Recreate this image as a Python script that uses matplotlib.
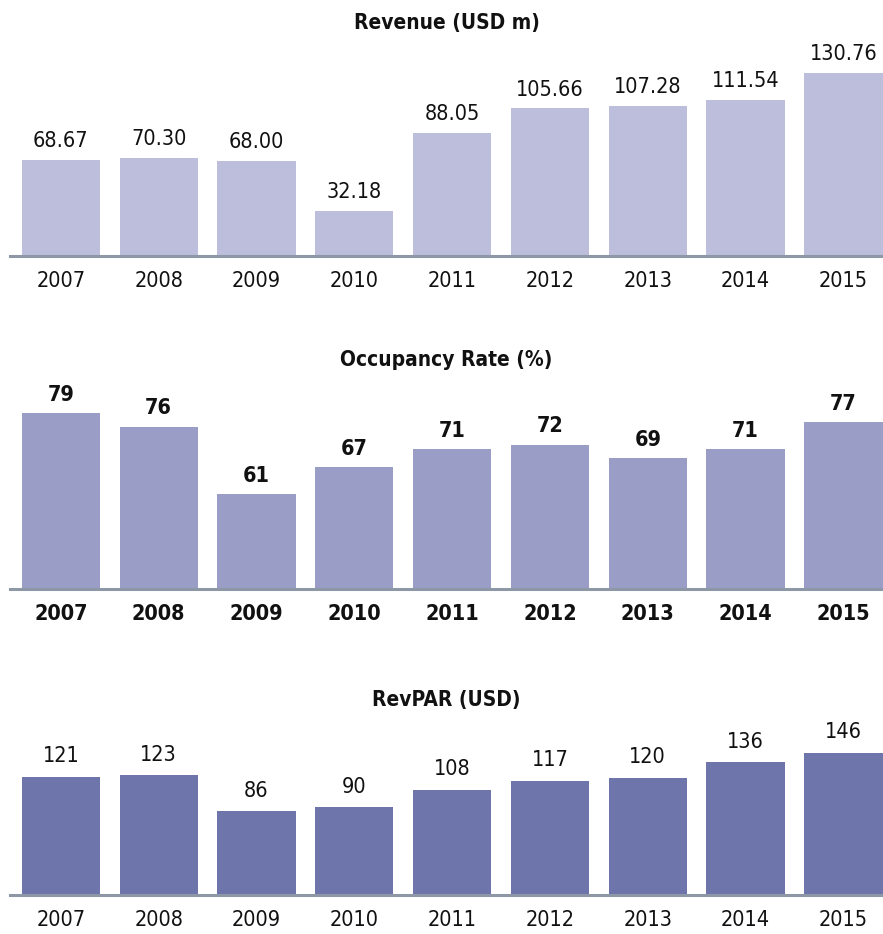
import matplotlib
matplotlib.use('Agg')
import matplotlib.pyplot as plt

# data
years = ['2007', '2008', '2009', '2010', '2011', '2012', '2013', '2014', '2015']
revenue = [68.67, 70.30, 68.00, 32.18, 88.05, 105.66, 107.28, 111.54, 130.76]
occupancy = [79, 76, 61, 67, 71, 72, 69, 71, 77]
revpar = [121, 123, 86, 90, 108, 117, 120, 136, 146]

plt.rcParams['font.family'] = ['DejaVu Sans']
plt.rcParams['font.stretch'] = 'condensed'

W, H = 883, 934
fig = plt.figure(figsize=(W / 100, H / 100), dpi=100)

# (values, labels, title, colour, ylim, bold, top px, bottom px, label offset)
panels = [
    (revenue, ['%.2f' % v for v in revenue], 'Revenue (USD m)', '#bcbedb', (0, 154.3), False, 40, 256, 9),
    (occupancy, [str(v) for v in occupancy], 'Occupancy Rate (%)', '#9a9dc5', (40, 87.0), True, 377, 589, 9),
    (revpar, [str(v) for v in revpar], 'RevPAR (USD)', '#6e75ab', (0, 182.6), False, 717, 895, 10.5),
]

x = list(range(len(years)))
for vals, labs, title, col, ylim, bold, top, bot, off in panels:
    ax = fig.add_axes([10 / W, 1 - bot / H, 873 / W, (bot - top) / H])
    base = ylim[0]
    bars = ax.bar(x, [v - base for v in vals], bottom=base, width=0.8, color=col)
    ax.set_xlim(-0.52, 8.405)
    ax.set_ylim(*ylim)
    fw = 'bold' if bold else 'normal'
    for b, t in zip(bars, labs):
        ax.annotate(t, (b.get_x() + b.get_width() / 2, b.get_y() + b.get_height()),
                    xytext=(0, off), textcoords='offset points', ha='center', va='baseline',
                    fontsize=15.5, fontweight=fw, color='#111111')
    ax.set_xticks(x)
    ax.set_xticklabels(years, fontsize=15.5, fontweight=fw, color='#111111')
    ax.tick_params(axis='x', length=0, pad=10.5)
    ax.set_yticks([])
    for s in ['top', 'right', 'left']:
        ax.spines[s].set_visible(False)
    ax.spines['bottom'].set_color('#8e97a5')
    ax.spines['bottom'].set_linewidth(2.2)
    ax.set_title(title, fontsize=15, fontweight='bold', pad=8, color='#111111')

fig.savefig('out.png', dpi=100)
